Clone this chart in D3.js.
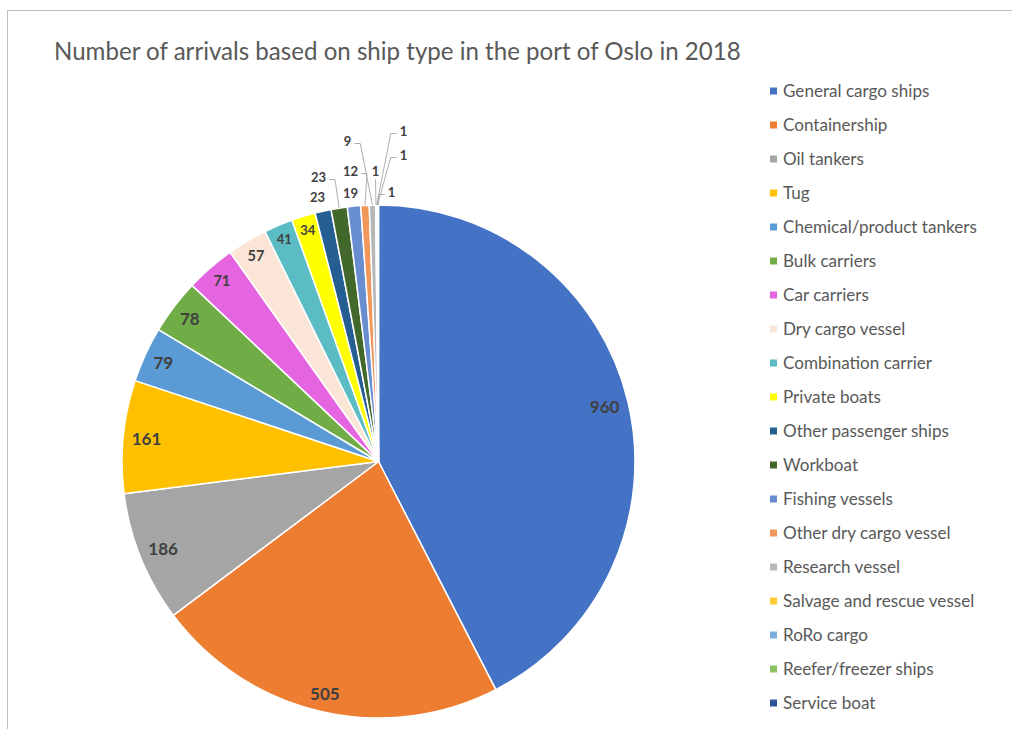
<!DOCTYPE html>
<html>
<head>
<meta charset="utf-8">
<script src="https://cdn.jsdelivr.net/npm/d3@7/dist/d3.min.js"></script>
<style>
  html, body { margin: 0; padding: 0; background: #ffffff; }
  svg { display: block; }
</style>
</head>
<body>
<svg id="chart" width="1012" height="729"></svg>
<script>
// Arrivals per ship type, port of Oslo, 2018
const chartTitle = "Number of arrivals based on ship type in the port of Oslo in 2018";

const shipTypes = [
  "General cargo ships", "Containership", "Oil tankers", "Tug",
  "Chemical/product tankers", "Bulk carriers", "Car carriers", "Dry cargo vessel",
  "Combination carrier", "Private boats", "Other passenger ships", "Workboat",
  "Fishing vessels", "Other dry cargo vessel", "Research vessel",
  "Salvage and rescue vessel", "RoRo cargo", "Reefer/freezer ships", "Service boat"
];

const arrivals = [960, 505, 186, 161, 79, 78, 71, 57, 41, 34, 23, 23, 19, 12, 9, 1, 1, 1, 1];

const sliceColors = [
  "#4472C4", "#ED7D31", "#A5A5A5", "#FFC000", "#5B9BD5", "#70AD47",
  "#E565E0", "#FBE5D6", "#5BBCC4", "#FFFF00", "#255E91", "#43682B",
  "#698ED0", "#F1975A", "#B7B7B7", "#FFCD33", "#7CAFDD", "#8CC168", "#2F5597"
];

// Layout for the labels of the thin slices at the top, placed outside the pie
// (offsets from the pie centre, in pixels; leader = draw a connector line)
const calloutLayout = {
  10: { dx: -61, dy: -264, leader: false },
  11: { dx: -60, dy: -284, leader: true },
  12: { dx: -28, dy: -268, leader: false },
  13: { dx: -28, dy: -290, leader: true },
  14: { dx: -31, dy: -320, leader: true },
  15: { dx: -3,  dy: -290, leader: true },
  16: { dx: 25,  dy: -330, leader: true },
  17: { dx: 25,  dy: -306, leader: true },
  18: { dx: 13,  dy: -269, leader: true }
};

const svg = d3.select("#chart");
const W = 1012, H = 729;
const cx = 378.5, cy = 461.5, R = 256.5;

// chart area frame
svg.append("rect")
  .attr("x", 7.5).attr("y", 10.5)
  .attr("width", W + 20).attr("height", H + 20)
  .attr("fill", "#ffffff")
  .attr("stroke", "#bfbfbf").attr("stroke-width", 1);

// title, sized to its line width
const title = svg.append("text")
  .attr("x", 54).attr("y", 60)
  .attr("font-family", "Lato, 'Open Sans', sans-serif")
  .attr("font-size", 24)
  .attr("fill", "#595959")
  .text(chartTitle);
{
  const w = title.node().getComputedTextLength();
  title.attr("font-size", 24 * 687 / w);
}

// pie
const data = shipTypes.map((name, i) => ({ name, value: arrivals[i], color: sliceColors[i], i }));
const pie = d3.pie().value(d => d.value).sort(null);
const arcs = pie(data);
const arcGen = d3.arc().innerRadius(0).outerRadius(R);

const g = svg.append("g").attr("transform", `translate(${cx},${cy})`);

g.selectAll("path.slice")
  .data(arcs)
  .enter().append("path")
  .attr("class", "slice")
  .attr("d", arcGen)
  .attr("fill", d => d.data.color)
  .attr("stroke", "#ffffff")
  .attr("stroke-width", 1.5)
  .attr("stroke-linejoin", "round");

// data labels
function labelSize(v) {
  if (v >= 78) return 17;
  if (v >= 57) return 14.5;
  return 13;
}

const labelFont = "Lato, 'Open Sans', sans-serif";

arcs.forEach(a => {
  const v = a.data.value;
  const fs = labelSize(v);
  const mid = (a.startAngle + a.endAngle) / 2;
  const sx = Math.sin(mid), sy = -Math.cos(mid);
  const lay = calloutLayout[a.data.i];

  const t = g.append("text")
    .attr("font-family", labelFont)
    .attr("font-weight", "bold")
    .attr("font-size", fs)
    .attr("fill", "#404040")
    .attr("text-anchor", "middle")
    .attr("dy", "0.36em")
    .text(v);
  const w = t.node().getComputedTextLength();
  const h = fs * 0.75;

  if (!lay) {
    // inside end of slice
    const pad = 8;
    const dist = R - pad - (Math.abs(sx) * w / 2 + Math.abs(sy) * h / 2);
    t.attr("x", sx * dist).attr("y", sy * dist);
  } else {
    t.attr("x", lay.dx).attr("y", lay.dy);
    if (lay.leader) {
      const px = sx * R, py = sy * R;
      let pts;
      if (Math.abs(lay.dx - px) < 4) {
        pts = [[lay.dx, lay.dy + h / 2 + 3], [px, py]];
      } else if (lay.dx < px) {
        const x0 = lay.dx + w / 2 + 3;
        pts = [[x0, lay.dy + 2], [x0 + 6, lay.dy + 2], [px, py]];
      } else {
        const x0 = lay.dx - w / 2 - 3;
        pts = [[x0, lay.dy + 2], [x0 - 6, lay.dy + 2], [px, py]];
      }
      g.append("path")
        .attr("d", d3.line()(pts))
        .attr("fill", "none")
        .attr("stroke", "#a6a6a6")
        .attr("stroke-width", 0.9);
    }
  }
});

// legend
const legend = svg.append("g").attr("transform", "translate(770,91)");
const rows = legend.selectAll("g.row")
  .data(data)
  .enter().append("g")
  .attr("class", "row")
  .attr("transform", (d, i) => `translate(0,${i * 34})`);

rows.append("rect")
  .attr("x", 0).attr("y", -3.5)
  .attr("width", 7).attr("height", 7)
  .attr("fill", d => d.color);

const legendText = rows.append("text")
  .attr("x", 13).attr("y", 0)
  .attr("dy", "0.35em")
  .attr("font-family", "Lato, 'Open Sans', sans-serif")
  .attr("font-size", 16)
  .attr("fill", "#595959")
  .text(d => d.name);
{
  const ref = legendText.filter(d => d.name === "Chemical/product tankers").node();
  const w = ref.getComputedTextLength();
  legendText.attr("font-size", 16 * 194 / w);
}
</script>
</body>
</html>
